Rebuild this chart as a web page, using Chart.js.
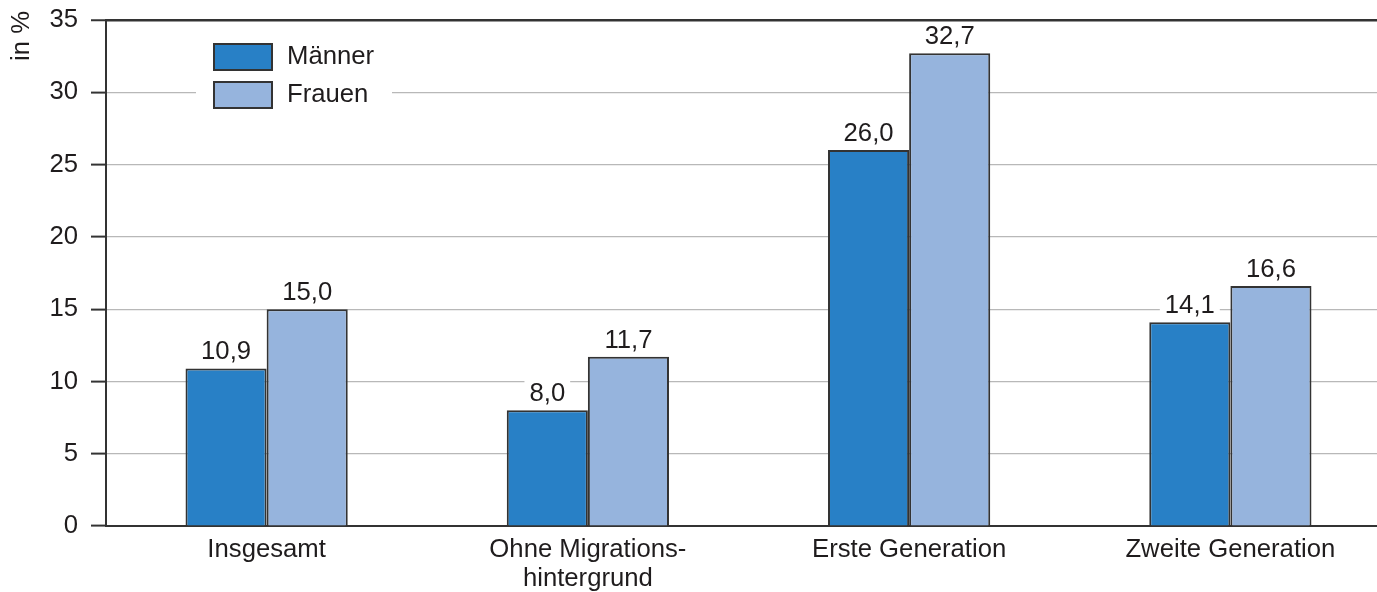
<!DOCTYPE html>
<html>
<head>
<meta charset="utf-8">
<script src="https://cdn.jsdelivr.net/npm/chart.js@4"></script>
<style>
    html, body { margin: 0; padding: 0; background: #fff; overflow: hidden; }
    #wrap { width: 1400px; height: 592px; }
</style>
</head>
<body>
<div id="wrap"><canvas id="chart" width="1400" height="592"></canvas></div>
<script>
const categories = ["Insgesamt", ["Ohne Migrations-", "hintergrund"], "Erste Generation", "Zweite Generation"];
const maenner = [10.9, 8.0, 26.0, 14.1];
const frauen = [15.0, 11.7, 32.7, 16.6];
const yTicks = [0, 5, 10, 15, 20, 25, 30, 35];

const FONT = "'Liberation Sans', Arial, Helvetica, sans-serif";
const FS = 25.7;
const TEXT = "#1f1c1d";
const DARK = "#333333";

// Werte über den Balken, mit weißem Hintergrund
const valueLabels = {
    id: "valueLabels",
    afterDatasetsDraw(chart) {
        const ctx = chart.ctx;
        ctx.save();
        ctx.font = FS + "px " + FONT;
        ctx.textAlign = "center";
        ctx.textBaseline = "alphabetic";
        chart.data.datasets.forEach((ds, i) => {
            chart.getDatasetMeta(i).data.forEach((bar, j) => {
                const txt = ds.data[j].toFixed(1).replace(".", ",");
                const w = ctx.measureText(txt).width;
                const y = bar.y - 9;
                ctx.fillStyle = "#fff";
                ctx.fillRect(bar.x - w / 2 - 5, y - 21, w + 10, 24);
                ctx.fillStyle = TEXT;
                ctx.fillText(txt, bar.x, y);
            });
        });
        ctx.restore();
    }
};

// Legende links oben im Diagramm + Achsentitel
const extras = {
    id: "extras",
    afterDraw(chart) {
        const ctx = chart.ctx;
        ctx.save();
        ctx.fillStyle = "#fff";
        ctx.fillRect(196, 36, 196, 78);
        ctx.font = FS + "px " + FONT;
        ctx.textBaseline = "middle";
        ctx.textAlign = "left";
        chart.data.datasets.forEach((ds, i) => {
            const y = 44 + i * 38;
            ctx.fillStyle = ds.backgroundColor;
            ctx.fillRect(214, y, 58, 26);
            ctx.strokeStyle = DARK;
            ctx.lineWidth = 2;
            ctx.strokeRect(214, y, 58, 26);
            ctx.fillStyle = TEXT;
            ctx.fillText(ds.label, 287, y + 13);
        });
        ctx.translate(22, 36);
        ctx.rotate(-Math.PI / 2);
        ctx.textAlign = "center";
        ctx.fillText("in %", 0, 0);
        ctx.restore();
    }
};

new Chart(document.getElementById("chart"), {
    type: "bar",
    data: {
        labels: categories,
        datasets: [
            { label: "Männer", data: maenner, backgroundColor: "#2880c6", borderColor: DARK, borderWidth: 2, borderSkipped: "bottom" },
            { label: "Frauen", data: frauen, backgroundColor: "#96b4dd", borderColor: DARK, borderWidth: 2, borderSkipped: "bottom" }
        ]
    },
    options: {
        responsive: false,
        animation: false,
        layout: { padding: { top: 20, right: 9, left: 0, bottom: 0 } },
        datasets: { bar: { barPercentage: 1, categoryPercentage: 0.505 } },
        plugins: { legend: { display: false }, tooltip: { enabled: false } },
        scales: {
            x: {
                grid: { display: false, drawTicks: false },
                border: { display: true, color: DARK, width: 2 },
                ticks: { color: TEXT, font: { family: FONT, size: FS, lineHeight: 1.13 }, padding: 9, maxRotation: 0, autoSkip: false },
                afterFit(scale) { scale.height = 66; }
            },
            y: {
                min: 0,
                max: 35,
                afterBuildTicks(scale) { scale.ticks = yTicks.map(v => ({ value: v })); },
                grid: {
                    color: ctx => ctx.tick && ctx.tick.value === 35 ? DARK : "#b8b8b8",
                    lineWidth: ctx => ctx.tick && ctx.tick.value === 35 ? 2.5 : 1.2,
                    tickColor: DARK,
                    tickLength: 15,
                    tickWidth: 2
                },
                border: { display: true, color: DARK, width: 2 },
                ticks: { color: TEXT, font: { family: FONT, size: FS }, padding: 13 },
                afterFit(scale) {
                    scale.width = 106;
                    scale.paddingTop = 0;
                    scale.paddingBottom = 0;
                }
            }
        }
    },
    plugins: [valueLabels, extras]
});
</script>
</body>
</html>
